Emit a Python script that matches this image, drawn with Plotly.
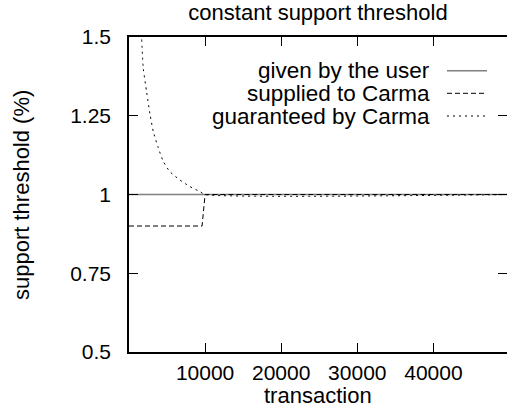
import plotly.graph_objects as go

# ---------------- data ----------------
series_names = ["given by the user", "supplied to Carma", "guaranteed by Carma"]

given_x = [0, 50000]
given_y = [1.0, 1.0]

supplied_x = [0, 9600, 10000, 50000]
supplied_y = [0.9, 0.9, 1.0, 1.0]

guaranteed_x = [1670, 1880, 2320, 2760, 3190, 3850, 4510, 5390, 6700, 8020, 9330, 10000, 50000]
guaranteed_y = [1.492, 1.40, 1.325, 1.255, 1.200, 1.148, 1.105, 1.072, 1.046, 1.025, 1.009, 1.0, 1.0]

x_tickvals = [10000, 20000, 30000, 40000]
x_ticktext = ["10000", "20000", "30000", "40000"]
y_tickvals = [0.5, 0.75, 1.0, 1.25, 1.5]
y_ticktext = ["0.5", "0.75", "1", "1.25", "1.5"]

title_text = "constant support threshold"
x_title = "transaction"
y_title = "support threshold (%)"

# ---------------- layout constants ----------------
W, H = 507, 409
ML, MR, MT, MB = 129, 0, 37, 57
FONT = "Liberation Sans, Arial, Helvetica, sans-serif"
FS = 22
FS_TICK = 21

def px_x(px):
    return (px - ML) / (W - ML - MR)

def px_y(py):
    return (H - MB - py) / (H - MT - MB)

line_styles = [
    dict(color="#808080", width=1.5, dash="solid"),
    dict(color="black", width=1, dash="5px,3px"),
    dict(color="black", width=1, dash="2px,4px"),
]

fig = go.Figure()
fig.add_trace(go.Scatter(x=given_x, y=given_y, mode="lines", line=line_styles[0],
                         name=series_names[0], showlegend=False))
fig.add_trace(go.Scatter(x=supplied_x, y=supplied_y, mode="lines", line=line_styles[1],
                         name=series_names[1], showlegend=False))
fig.add_trace(go.Scatter(x=guaranteed_x, y=guaranteed_y, mode="lines",
                         line=dict(**line_styles[2], shape="spline", smoothing=0.6),
                         name=series_names[2], showlegend=False))
# empty trace to activate right-side tick axis
fig.add_trace(go.Scatter(x=[], y=[], yaxis="y2", showlegend=False, hoverinfo="skip"))

# custom gnuplot-style legend (text right, sample on the right)
legend_rows_y = [70.7, 93.3, 116.0]
shapes = []
annotations = []
for name, st, ry in zip(series_names, line_styles, legend_rows_y):
    annotations.append(dict(text=name, xref="paper", yref="paper", x=px_x(432), y=px_y(ry),
                            xanchor="right", yanchor="middle", showarrow=False,
                            font=dict(family=FONT, size=22.5, color="black")))
    shapes.append(dict(type="line", xref="paper", yref="paper",
                       x0=px_x(447), x1=px_x(487), y0=px_y(ry), y1=px_y(ry),
                       line=st))

annotations.append(dict(text=x_title, xref="paper", yref="paper", x=0.5, y=px_y(395),
                        xanchor="center", yanchor="middle", showarrow=False,
                        font=dict(family=FONT, size=FS, color="black")))
annotations.append(dict(text=y_title, xref="paper", yref="paper", x=px_x(21), y=px_y(195),
                        xanchor="center", yanchor="middle", textangle=-90, showarrow=False,
                        font=dict(family=FONT, size=FS, color="black")))

axis_common = dict(showgrid=False, zeroline=False, ticks="inside", ticklen=9,
                   tickwidth=1.2, tickcolor="black", linecolor="black", linewidth=1.5,
                   tickfont=dict(family=FONT, size=FS_TICK, color="black"))

fig.update_layout(
    width=W, height=H,
    margin=dict(l=ML, r=MR, t=MT, b=MB, pad=0),
    paper_bgcolor="white", plot_bgcolor="white",
    font=dict(family=FONT, size=FS, color="black"),
    title=dict(text=title_text, xref="paper", x=0.5, xanchor="center",
               yref="container", y=1 - 12.5 / H, yanchor="middle",
               font=dict(family=FONT, size=FS, color="black")),
    xaxis=dict(range=[0, 49670], tickvals=x_tickvals, ticktext=x_ticktext,
               showline=True, mirror="ticks", ticklabelstandoff=1, **axis_common),
    yaxis=dict(range=[0.5, 1.5], tickvals=y_tickvals, ticktext=y_ticktext,
               showline=True, mirror=False, ticklabelstandoff=12, **axis_common),
    yaxis2=dict(range=[0.5, 1.5], tickvals=y_tickvals, overlaying="y", side="right",
                anchor="x", showline=False, showticklabels=False, showgrid=False,
                zeroline=False, ticks="inside", ticklen=9, tickwidth=1.2, tickcolor="black"),
    shapes=shapes,
    annotations=annotations,
    showlegend=False,
)

fig.write_html("out.html", config={"displayModeBar": False},
               post_script="document.body.style.margin='0';document.body.style.overflow='hidden';")
